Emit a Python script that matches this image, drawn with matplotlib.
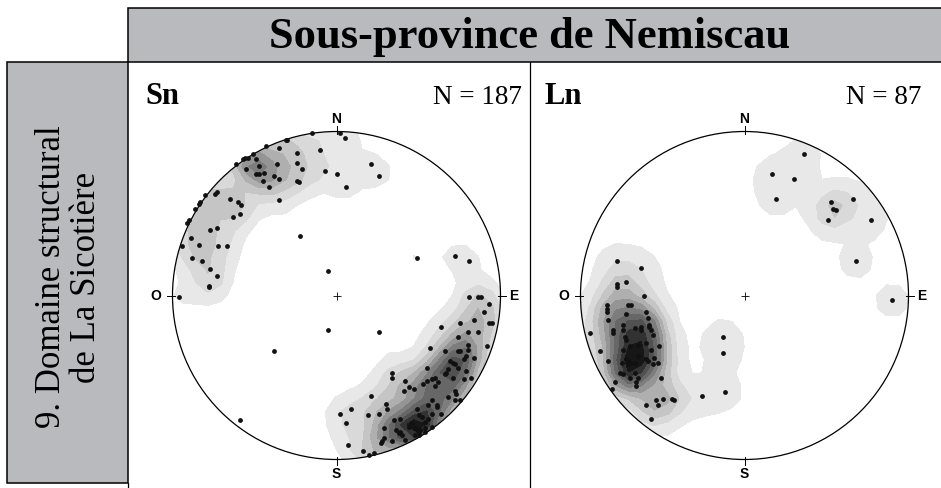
import numpy as np
import matplotlib.pyplot as plt
from matplotlib.patches import Rectangle, Circle

# Poles to Sn and Ln lineations, lower-hemisphere equal-area net,
# given as (east, north) in percent of the net radius
sn_poles = [
    (2, 99), (5, 96), (-15, 99), (-30, 95), (-31, 95), (-35, 90), (-43, 91),
    (-10, 89), (-24, 87), (-24, 81), (-21, 77), (-7, 76), (0, 74), (6, 66),
    (-24, 70), (-23, 69), (-35, 58), (-36, 80), (-38, 73), (-35, 71), (-41, 66),
    (-49, 83), (-51, 86), (-54, 84), (-56, 84), (-57, 83), (-61, 80), (-55, 77),
    (-47, 79), (-44, 75), (-49, 74), (-47, 74), (-45, 70), (-74, 62), (-73, 63),
    (-80, 61), (-65, 59), (-60, 57), (-58, 55), (-59, 50), (-63, 48), (-83, 57),
    (-84, 56), (-86, 53), (-90, 46), (-91, 44), (-77, 40), (-73, 41), (-89, 35),
    (-84, 31), (-94, 30), (-72, 30), (-67, 30), (-88, 23), (-82, 21), (-77, 16),
    (-73, 12), (-78, 6), (-78, 5), (-96, -1), (-22, 36), (-5, 15), (21, 80),
    (26, 73), (49, 23), (72, 24), (81, 21), (-5, -21), (26, -22), (-38, -34),
    (-59, -76),
    (81, -1), (86, -1), (88, -1), (93, -5), (90, -10), (84, -15), (93, -17),
    (95, -17), (75, -17), (64, -19), (80, -22), (86, -22), (74, -25), (80, -30),
    (92, -31), (57, -32), (66, -34), (74, -34), (75, -34), (80, -33), (79, -37),
    (78, -39), (84, -38), (69, -40), (71, -41), (72, -42), (74, -44), (79, -46),
    (55, -44), (68, -45), (67, -47), (66, -48), (71, -50), (78, -51), (82, -50),
    (34, -47), (34, -50), (42, -52), (55, -52), (58, -51), (60, -50), (53, -54),
    (62, -53), (60, -55), (44, -56), (41, -58), (47, -57), (72, -58), (73, -60),
    (21, -61), (58, -64), (68, -62), (72, -64), (75, -64), (30, -66), (31, -69),
    (49, -69), (56, -67), (61, -67), (61, -68), (64, -72), (50, -73), (52, -74),
    (58, -72), (56, -75), (54, -77), (9, -69), (2, -72), (19, -73), (26, -72),
    (6, -78), (35, -76), (39, -75), (29, -81), (36, -82), (39, -83), (40, -85),
    (38, -84), (46, -78), (44, -80), (48, -81), (49, -82), (50, -83), (51, -82),
    (54, -81), (50, -85), (48, -85), (58, -80), (54, -83), (42, -88), (34, -89),
    (29, -87), (28, -89), (27, -90), (7, -91), (16, -95), (20, -97), (23, -96),
]

ln_lines = [
    (-78, 21), (-63, 17), (-78, 7), (-78, 5), (-72, 8), (-61, 0), (-71, -6),
    (-69, -6), (-84, -6), (-84, -8), (-84, -10), (-72, -11), (-83, -15),
    (-60, -10), (-59, -14), (-74, -18), (-67, -20), (-63, -19), (-63, -21),
    (-58, -18), (-58, -19), (-57, -21), (-74, -21), (-80, -21), (-80, -23),
    (-73, -25), (-72, -27), (-56, -24), (-94, -23), (-65, -30), (-60, -29),
    (-52, -31), (-70, -31), (-74, -33), (-88, -34), (-57, -33), (-55, -38),
    (-56, -42), (-53, -41), (-65, -37), (-60, -39), (-59, -40), (-72, -39),
    (-71, -40), (-70, -41), (-71, -42), (-67, -41), (-83, -40), (-75, -41),
    (-76, -47), (-74, -48), (-67, -47), (-65, -50), (-70, -50), (-66, -53),
    (-66, -55), (-51, -50), (-79, -53), (-81, -57), (-54, -64), (-50, -63),
    (-53, -67), (-44, -63), (-43, -64), (-60, -67), (-57, -75), (-26, -61),
    (-12, -59), (-13, -25), (-13, -35),
    (36, 86), (17, 74), (30, 71), (19, 59), (53, 57), (66, 59), (54, 53),
    (56, 52), (51, 46), (77, 46), (68, 21), (90, -3),
]

nets = [
    # label, N, data, centre x in px
    ("Sn", 187, sn_poles, 336.5),
    ("Ln", 87, ln_lines, 744.5),
]

W, H = 941, 488
R = 164.0          # net radius in px
CY = 295.5         # net centre from top, px
box_grey = "#b9babd"
serif = "Liberation Serif"

fig = plt.figure(figsize=(W / 100, H / 100), dpi=100)
bg = fig.add_axes([0, 0, 1, 1])
bg.set_xlim(0, W)
bg.set_ylim(H, 0)
bg.axis("off")

# header and side boxes
bg.add_patch(Rectangle((128, 8), 830, 54, fc=box_grey, ec="black", lw=1.1))
bg.add_patch(Rectangle((7, 62), 121, 421, fc=box_grey, ec="black", lw=1.1))
bg.text(530, 37, "Sous-province de Nemiscau", family=serif, weight="bold",
        fontsize=32, ha="center", va="center")
bg.text(69, 277, "9. Domaine structural\nde La Sicotière", family=serif,
        fontsize=25, rotation=90, ha="center", va="center", linespacing=1.1)
bg.plot([530, 530], [62, H], color="black", lw=0.9)
bg.plot([128, 128], [483, H], color="black", lw=0.9)


def density(pts, sigma=0.08, n=29):
    # smoothed point density, % of the data per counting area
    g = np.linspace(-1.1, 1.1, n)
    gx, gy = np.meshgrid(g, g)
    d2 = (gx[..., None] - pts[:, 0]) ** 2 + (gy[..., None] - pts[:, 1]) ** 2
    z = np.exp(-d2 / (2 * sigma ** 2)).sum(-1)
    return gx, gy, 100.0 * z / len(pts)


lim = 1.2
side = 2 * lim * R
for label, count, data, cx in nets:
    pts = np.array(data, dtype=float) / 100.0
    ax = fig.add_axes([(cx - side / 2) / W, (H - CY - side / 2) / H,
                       side / W, side / H])
    ax.set_xlim(-lim, lim)
    ax.set_ylim(-lim, lim)
    ax.axis("off")
    ax.patch.set_alpha(0)

    gx, gy, z = density(pts)
    levels = np.linspace(0.56, z.max() + 1e-6, 11)
    cols = plt.cm.Greys(np.linspace(0.17, 0.92, len(levels) - 1))
    cs = ax.contourf(gx, gy, z, levels=levels, colors=cols)
    clip = Circle((0, 0), 1, transform=ax.transData)
    cs.set_clip_path(clip)

    ax.add_patch(Circle((0, 0), 1, fill=False, ec="black", lw=0.9, zorder=3))
    ax.scatter(pts[:, 0], pts[:, 1], s=12, color="#111111", zorder=4, lw=0)
    ax.plot(0, 0, marker="+", ms=6, mew=0.6, color="black")

    # cardinal ticks and labels
    t = 0.035
    ax.plot([0, 0], [1 - t / 2, 1 + t], color="black", lw=0.7)
    ax.plot([0, 0], [-1 + t / 2, -1 - t], color="black", lw=0.7)
    ax.plot([1 - t / 2, 1 + t], [0, 0], color="black", lw=0.7)
    ax.plot([-1 + t / 2, -1 - t], [0, 0], color="black", lw=0.7)
    lab = dict(family="Liberation Sans", weight="bold", fontsize=10,
               ha="center", va="center")
    ax.text(0, 1.075, "N", **lab)
    ax.text(0, -1.09, "S", **lab)
    ax.text(1.08, 0, "E", **lab)
    ax.text(-1.1, 0, "O", **lab)

    # panel titles
    px0 = 145 if label == "Sn" else 545
    px1 = 522 if label == "Sn" else 921
    bg.text(px0, 97, label, family=serif, weight="bold", fontsize=22,
            ha="left", va="center")
    bg.text(px1, 97, f"N = {count}", family=serif, fontsize=19.5,
            ha="right", va="center")

fig.savefig("out.png", dpi=100)
